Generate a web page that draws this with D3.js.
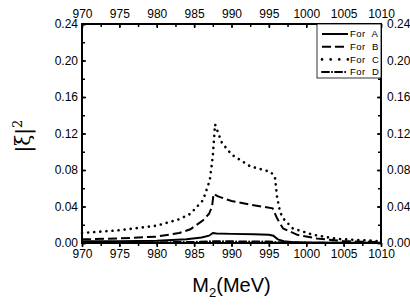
<!DOCTYPE html>
<html>
<head>
<meta charset="utf-8">
<script src="https://cdn.jsdelivr.net/npm/d3@7"></script>
<style>
  body { margin: 0; background: #fff; }
  text { font-family: "Liberation Sans", Arial, sans-serif; fill: #000; }
</style>
</head>
<body>
<script>
// data
var xTicks = [970, 975, 980, 985, 990, 995, 1000, 1005, 1010];
var yTicks = [0.00, 0.04, 0.08, 0.12, 0.16, 0.20, 0.24];

var massA = [970, 975, 980, 984, 986, 987, 987.5, 988, 990, 993, 995, 995.6, 996.2, 997, 998, 1000, 1005, 1010];
var valA  = [0.002, 0.002, 0.0025, 0.004, 0.006, 0.008, 0.011, 0.0105, 0.010, 0.0095, 0.009, 0.008, 0.004, 0.002, 0.001, 0.0006, 0.0003, 0.0002];

var massB = [970, 975, 980, 983, 984.5, 986.2, 987, 987.4, 987.6, 988.2, 990, 992.5, 995.5, 996.1, 996.9, 998.8, 1001.4, 1005, 1010];
var valB  = [0.004, 0.005, 0.007, 0.011, 0.015, 0.025, 0.032, 0.040, 0.054, 0.051, 0.046, 0.042, 0.038, 0.027, 0.016, 0.009, 0.005, 0.002, 0.001];

var massC = [970, 975, 980, 983, 984.5, 986.2, 987.1, 987.5, 987.8, 988.7, 990, 992.5, 995.2, 995.8, 996.1, 996.5, 996.9, 998.2, 1000.9, 1004.1, 1010];
var valC  = [0.011, 0.014, 0.019, 0.026, 0.032, 0.047, 0.069, 0.095, 0.130, 0.110, 0.097, 0.084, 0.078, 0.073, 0.050, 0.034, 0.027, 0.016, 0.009, 0.0045, 0.002];

var massD = [970, 980, 985, 987.5, 990, 995, 996.5, 1000, 1010];
var valD  = [0.0005, 0.0008, 0.0012, 0.002, 0.0018, 0.0016, 0.0008, 0.0004, 0.0002];

var seriesNames = ["For A", "For B", "For C", "For D"];
var dashes = [null, "9,4", "0.1,6", "7,3,0.1,3"];

var svgWidth = 410, svgHeight = 307;
var margin = {top: 24, right: 29, bottom: 64, left: 82};
var width = svgWidth - margin.left - margin.right;
var height = svgHeight - margin.top - margin.bottom;

var svg = d3.select("body").append("svg")
  .attr("width", svgWidth)
  .attr("height", svgHeight);

var g = svg.append("g")
  .attr("transform", `translate(${margin.left}, ${margin.top})`);

var x = d3.scaleLinear().domain([970, 1010]).range([0, width]);
var y = d3.scaleLinear().domain([0, 0.24]).range([height, 0]);

var minorX = d3.range(970, 1010.1, 2.5);
var minorY = d3.range(0, 0.2401, 0.02);

// axes
var bottomAxis = g.append("g").attr("transform", `translate(0, ${height})`)
  .call(d3.axisBottom(x).tickValues(xTicks).tickSize(4).tickPadding(2).tickFormat(d3.format("d")));
bottomAxis.append("g").call(d3.axisBottom(x).tickValues(minorX).tickSize(3).tickFormat(""));

var topAxis = g.append("g")
  .call(d3.axisTop(x).tickValues(xTicks).tickSizeInner(-4).tickSizeOuter(0).tickPadding(6).tickFormat(d3.format("d")));
topAxis.append("g").call(d3.axisTop(x).tickValues(minorX).tickSizeInner(-3).tickSizeOuter(0).tickFormat(""));

var leftAxis = g.append("g")
  .call(d3.axisLeft(y).tickValues(yTicks).tickSizeInner(-4).tickSizeOuter(0).tickPadding(4).tickFormat(d3.format(".2f")));
leftAxis.append("g").call(d3.axisLeft(y).tickValues(minorY).tickSizeInner(-3).tickSizeOuter(0).tickFormat(""));

var rightAxis = g.append("g").attr("transform", `translate(${width}, 0)`)
  .call(d3.axisRight(y).tickValues(yTicks).tickSizeInner(-4).tickSizeOuter(0).tickPadding(6).tickFormat(d3.format(".2f")));
rightAxis.append("g").call(d3.axisRight(y).tickValues(minorY).tickSizeInner(-3).tickSizeOuter(0).tickFormat(""));

g.selectAll(".domain").attr("stroke", "none");
g.selectAll(".tick line").attr("stroke", "#000").attr("stroke-width", 1.5);
g.selectAll(".tick text").style("font-size", "12px").style("font-family", "Liberation Sans, Arial, sans-serif");

// frame
g.append("rect")
  .attr("width", width).attr("height", height)
  .attr("fill", "none").attr("stroke", "#000").attr("stroke-width", 2);

// curves
var line = d3.line().x(d => x(d[0])).y(d => y(d[1]));
var allSeries = [
  d3.zip(massA, valA),
  d3.zip(massB, valB),
  d3.zip(massC, valC),
  d3.zip(massD, valD)
];

g.selectAll(".curve")
  .data(allSeries)
  .enter().append("path")
  .attr("class", "curve")
  .attr("d", line)
  .attr("fill", "none")
  .attr("stroke", "#000")
  .attr("stroke-width", (d, i) => i == 2 ? 2.6 : 2)
  .attr("stroke-linecap", (d, i) => i >= 2 ? "round" : "butt")
  .attr("stroke-dasharray", (d, i) => dashes[i]);

// legend
var legendBox = g.append("g").attr("transform", `translate(${width - 64}, 0)`);
legendBox.append("rect")
  .attr("width", 64).attr("height", 54)
  .attr("fill", "#fff").attr("stroke", "#000").attr("stroke-width", 0.8);

var legend = legendBox.selectAll(".legend")
  .data(seriesNames)
  .enter().append("g")
  .attr("class", "legend")
  .attr("transform", function(d, i) { return "translate(0," + (10 + i * 12.7) + ")"; });

legend.append("line")
  .attr("x1", 5).attr("x2", 31)
  .attr("stroke", "#000")
  .attr("stroke-width", (d, i) => i == 2 ? 2.6 : 2)
  .attr("stroke-linecap", (d, i) => i >= 2 ? "round" : "butt")
  .attr("stroke-dasharray", (d, i) => i == 2 ? "0.1,8.5" : dashes[i]);

legend.append("text")
  .attr("x", 33)
  .attr("dy", "0.35em")
  .style("font-size", "9.5px")
  .style("letter-spacing", "0.5px")
  .style("white-space", "pre")
  .text(d => d.replace(" ", "  "));

// axis titles
var xTitle = svg.append("text")
  .attr("x", margin.left + width / 2)
  .attr("y", 292)
  .attr("text-anchor", "middle")
  .style("font-size", "20px");
xTitle.append("tspan").text("M");
xTitle.append("tspan").attr("dy", 5).style("font-size", "13px").text("2");
xTitle.append("tspan").attr("dy", -5).text("(MeV)");

var yTitle = svg.append("text")
  .attr("transform", "translate(30, 136) rotate(-90)")
  .attr("text-anchor", "middle")
  .style("font-size", "20px")
  .style("font-family", "DejaVu Serif, serif");
yTitle.append("tspan").text("|ξ|");
yTitle.append("tspan").attr("dy", -8).style("font-size", "13px").text("2");
</script>
</body>
</html>
